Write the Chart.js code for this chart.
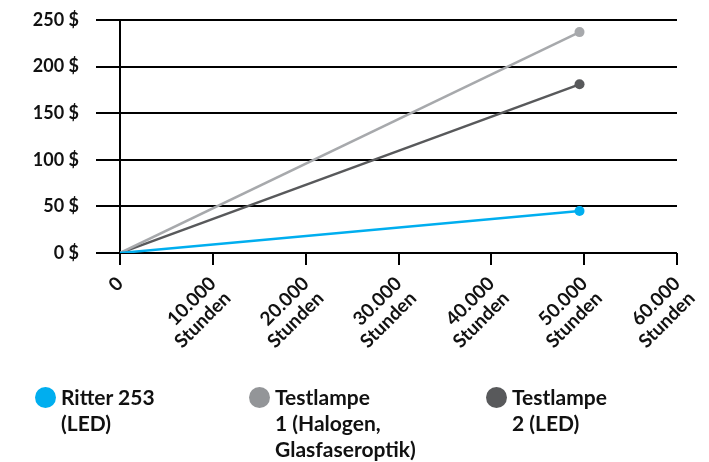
<!DOCTYPE html>
<html>
<head>
<meta charset="utf-8">
<script src="https://cdn.jsdelivr.net/npm/chart.js@4"></script>
<style>
  body { margin: 0; background: #fff; font-family: Lato, "Open Sans", sans-serif; }
  #wrap { position: relative; width: 709px; height: 462px; }
  #legend { position: absolute; left: 0; top: 384px; width: 709px; }
  .item { position: absolute; top: 0; display: flex; align-items: flex-start; }
  .dot { width: 21px; height: 21px; border-radius: 50%; margin-right: 5px; margin-top: 3px; }
  .txt { font-weight: 700; font-size: 21px; line-height: 26px; color: #111; }
</style>
</head>
<body>
<div id="wrap">
  <canvas id="c" width="709" height="462"></canvas>
  <div id="legend"></div>
</div>
<script>
// hours on the x axis
const hours = [0, 49500];
const ritter253 = [0, 45];
const testlampe1 = [0, 237];
const testlampe2 = [0, 181];

const seriesNames = ["Ritter 253 (LED)", "Testlampe 1 (Halogen, Glasfaseroptik)", "Testlampe 2 (LED)"];
const legendLines = [["Ritter 253", "(LED)"], ["Testlampe", "1 (Halogen,", "Glasfaseroptik)"], ["Testlampe", "2 (LED)"]];
const lineColors = ["#00aeef", "#a7a9ac", "#58595b"];
const legendColors = ["#00aeef", "#939598", "#58595b"];
const legendX = [35, 249, 486];

const xTicks = [0, 10000, 20000, 30000, 40000, 50000, 60000];
const yTicks = [0, 50, 100, 150, 200, 250];

const fmt = (v) => v.toLocaleString("de-DE");

function makeSet(name, values, color) {
  return {
    label: name,
    data: hours.map((h, i) => ({ x: h, y: values[i] })),
    borderColor: color,
    backgroundColor: color,
    borderWidth: 2.5,
    pointRadius: [0, 5],
    pointHoverRadius: [0, 5],
    pointBorderWidth: 0,
    tension: 0,
  };
}

const ctx = document.getElementById("c").getContext("2d");
new Chart(ctx, {
  type: "line",
  data: {
    datasets: [
      makeSet(seriesNames[0], ritter253, lineColors[0]),
      makeSet(seriesNames[1], testlampe1, lineColors[1]),
      makeSet(seriesNames[2], testlampe2, lineColors[2]),
    ],
  },
  options: {
    responsive: false,
    animation: false,
    layout: { padding: { top: 20, right: 32, left: 0, bottom: 0 } },
    plugins: { legend: { display: false }, tooltip: { enabled: false } },
    scales: {
      x: {
        type: "linear",
        min: 0,
        max: 60000,
        afterBuildTicks: (s) => { s.ticks = xTicks.map((v) => ({ value: v })); },
        afterFit: (s) => { s.height = 209; s.paddingLeft = 0; s.paddingRight = 0; },
        border: { display: false },
        grid: { drawOnChartArea: false, drawTicks: true, tickLength: 12, color: "#000", lineWidth: 2 },
        ticks: {
          color: "#111",
          font: { family: "Lato", weight: "bold", size: 19, lineHeight: 1.1 },
          maxRotation: 45,
          minRotation: 45,
          padding: 8,
          callback: (v) => (v === 0 ? "0" : [fmt(v), "Stunden"]),
        },
      },
      y: {
        min: 0,
        max: 250,
        afterBuildTicks: (s) => { s.ticks = yTicks.map((v) => ({ value: v })); },
        afterFit: (s) => { s.width = 120; s.paddingTop = 0; s.paddingBottom = 0; },
        border: { display: true, color: "#000", width: 2 },
        grid: { color: "#000", lineWidth: 2, tickLength: 24 },
        ticks: {
          color: "#111",
          font: { family: "Lato", weight: "bold", size: 18 },
          padding: 17,
          callback: (v) => v + " $",
        },
      },
    },
  },
});

// legend below the chart
const legend = document.getElementById("legend");
seriesNames.forEach((name, i) => {
  const item = document.createElement("div");
  item.className = "item";
  item.style.left = legendX[i] + "px";
  item.title = name;
  const dot = document.createElement("div");
  dot.className = "dot";
  dot.style.background = legendColors[i];
  const txt = document.createElement("div");
  txt.className = "txt";
  txt.innerHTML = legendLines[i].join("<br>");
  item.appendChild(dot);
  item.appendChild(txt);
  legend.appendChild(item);
});
</script>
</body>
</html>
